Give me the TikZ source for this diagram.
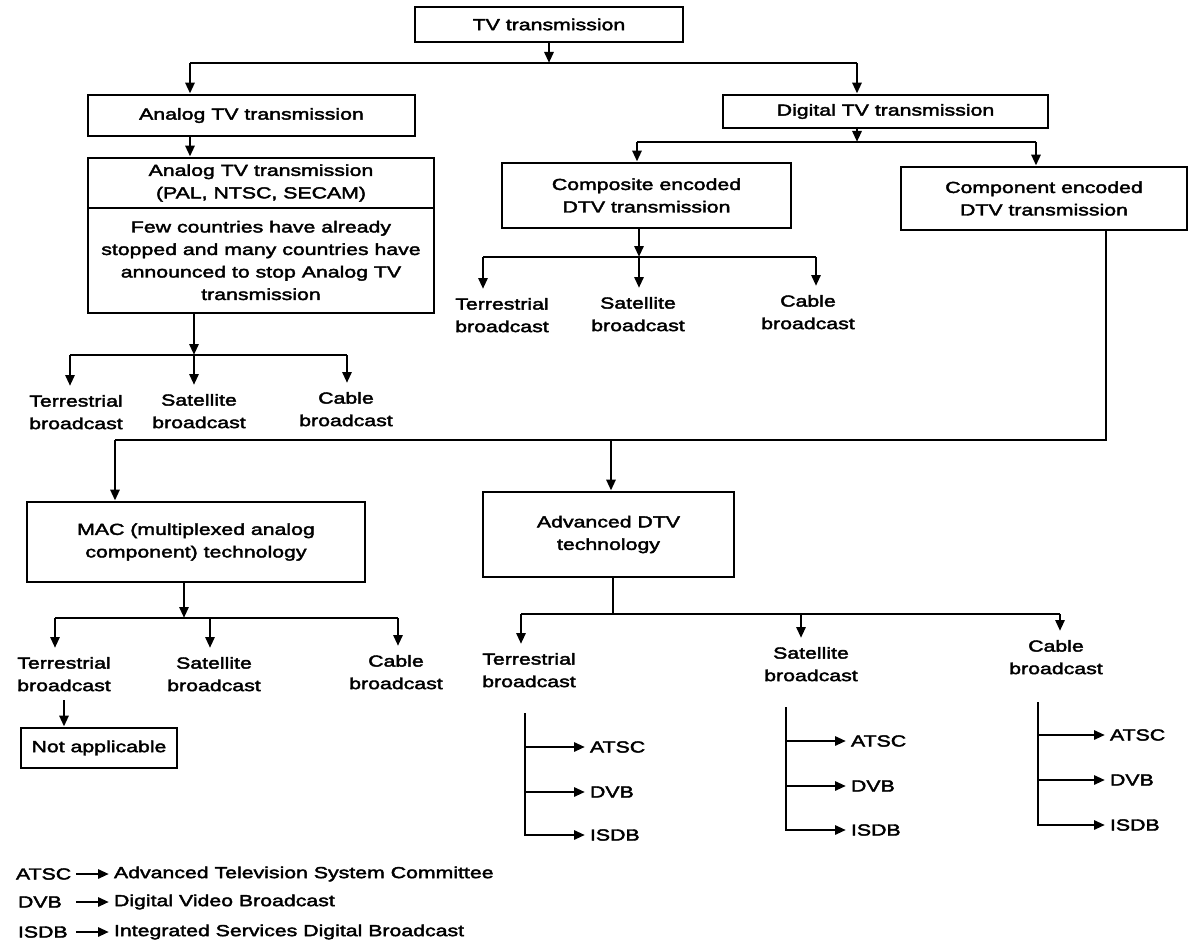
\documentclass[tikz,border=0pt]{standalone}
\usepackage{fontspec}
\setmainfont{Liberation Sans}[FakeStretch=1.33,FakeBold=2.5]
\usetikzlibrary{arrows.meta}
\newcommand\dgfont{\fontsize{16}{22.5}\selectfont}
\begin{document}
\begin{tikzpicture}[x=1pt,y=-1pt,
  line/.style={line width=2.8pt},
  arr/.style={line width=2.8pt,-{Triangle[length=11pt,width=9pt]}},
  box/.style={draw,line width=2.8pt,inner sep=0pt,align=center,font=\dgfont},
  lbl/.style={inner sep=1pt,outer sep=8pt,align=center,anchor=north,font=\dgfont},
  std/.style={inner sep=0pt,outer sep=5pt,anchor=west,font=\dgfont}
]
\useasboundingbox (0,0) rectangle (1191,944);

% boxes
\node[box,minimum width=268pt,minimum height=35pt] (tv) at (549,24.5) {TV transmission};
\node[box,minimum width=327pt,minimum height=41pt] (analog) at (251.5,115.5) {Analog TV transmission};
\node[box,minimum width=346pt,minimum height=50pt] (bigT) at (261,183) {Analog TV transmission\\(PAL, NTSC, SECAM)};
\node[box,minimum width=346pt,minimum height=105pt] (bigB) at (261,260.5) {Few countries have already\\stopped and many countries have\\announced to stop Analog TV\\transmission};
\node[box,minimum width=325pt,minimum height=33pt] (digital) at (885.5,111.5) {Digital TV transmission};
\node[box,minimum width=289pt,minimum height=65pt] (composite) at (646.5,195.5) {Composite encoded\\DTV transmission};
\node[box,minimum width=286pt,minimum height=63pt] (component) at (1044,198.5) {Component encoded\\DTV transmission};
\node[box,minimum width=338pt,minimum height=80pt] (mac) at (196,542) {MAC (multiplexed analog\\component) technology};
\node[box,minimum width=251pt,minimum height=85pt] (adv) at (608.5,534.5) {Advanced DTV\\technology};
\node[box,minimum width=156pt,minimum height=40pt] (na) at (99,748) {Not applicable};

% labels
\node[lbl] (aT) at (76,386) {Terrestrial\\broadcast};
\node[lbl] (aS) at (199,385) {Satellite\\broadcast};
\node[lbl] (aC) at (346,383) {Cable\\broadcast};
\node[lbl] (cT) at (502,289) {Terrestrial\\broadcast};
\node[lbl] (cS) at (638,288) {Satellite\\broadcast};
\node[lbl] (cC) at (808,286) {Cable\\broadcast};
\node[lbl] (mT) at (64,648) {Terrestrial\\broadcast};
\node[lbl] (mS) at (214,648) {Satellite\\broadcast};
\node[lbl] (mC) at (396,646) {Cable\\broadcast};
\node[lbl] (vT) at (529,644) {Terrestrial\\broadcast};
\node[lbl] (vS) at (811,638) {Satellite\\broadcast};
\node[lbl] (vC) at (1056,631) {Cable\\broadcast};

% standards
\node[std] (tA) at (585,747) {ATSC};
\node[std] (tD) at (585,792) {DVB};
\node[std] (tI) at (585,835) {ISDB};
\node[std] (sA) at (846,741) {ATSC};
\node[std] (sD) at (846,786) {DVB};
\node[std] (sI) at (846,830) {ISDB};
\node[std] (kA) at (1105,735) {ATSC};
\node[std] (kD) at (1105,780) {DVB};
\node[std] (kI) at (1105,825) {ISDB};

% legend
\node[std] (lA) at (11,874) {ATSC};
\node[std] (lAd) at (109,874) {Advanced Television System Committee};
\node[std] (lD) at (13,902) {DVB};
\node[std] (lDd) at (109,902) {Digital Video Broadcast};
\node[std] (lI) at (13,932) {ISDB};
\node[std] (lId) at (109,932) {Integrated Services Digital Broadcast};

% top level
\coordinate (t1) at (190,63);
\coordinate (t2) at (857,63);
\draw[line] (t1) -- (t2);
\draw[arr] (tv.south) -- (tv.south |- t1);
\draw[arr] (t1) -- (t1 |- analog.north);
\draw[arr] (t2) -- (t2 |- digital.north);
\draw[arr] (analog.south -| t1) -- (t1 |- bigT.north);

% analog branch
\coordinate (a1) at (70,355);
\coordinate (a2) at (194,355);
\coordinate (a3) at (347,355);
\draw[arr] (bigB.south -| a2) -- (a2);
\draw[line] (a1) -- (a3);
\draw[arr] (a1) -- (a1 |- aT.north);
\draw[arr] (a2) -- (a2 |- aS.north);
\draw[arr] (a3) -- (a3 |- aC.north);

% digital branch
\coordinate (d0) at (857,142);
\coordinate (d1) at (637,142);
\coordinate (d2) at (1036,142);
\draw[arr] (digital.south -| d0) -- (d0);
\draw[line] (d1) -- (d2);
\draw[arr] (d1) -- (d1 |- composite.north);
\draw[arr] (d2) -- (d2 |- component.north);

% composite branch
\coordinate (c0) at (639,257);
\coordinate (c1) at (483,257);
\coordinate (c3) at (816,257);
\draw[arr] (composite.south -| c0) -- (c0);
\draw[line] (c1) -- (c3);
\draw[arr] (c1) -- (c1 |- cT.north);
\draw[arr] (c0) -- (c0 |- cS.north);
\draw[arr] (c3) -- (c3 |- cC.north);

% component branch
\coordinate (k0) at (1106,440);
\coordinate (kL) at (115,440);
\coordinate (kM) at (611,440);
\draw[line] (component.south -| k0) -- (k0) -- (kL);
\draw[arr] (kL) -- (kL |- mac.north);
\draw[arr] (kM) -- (kM |- adv.north);

% MAC branch
\coordinate (m0) at (184,618);
\coordinate (m1) at (55,618);
\coordinate (m2) at (210,618);
\coordinate (m3) at (398,618);
\draw[arr] (mac.south -| m0) -- (m0);
\draw[line] (m1) -- (m3);
\draw[arr] (m1) -- (m1 |- mT.north);
\draw[arr] (m2) -- (m2 |- mS.north);
\draw[arr] (m3) -- (m3 |- mC.north);
\draw[arr] (mT.south) -- (mT.south |- na.north);

% advanced branch
\coordinate (v0) at (613,614);
\coordinate (v1) at (521,614);
\coordinate (v2) at (801,614);
\coordinate (v3) at (1060,614);
\draw[line] (adv.south -| v0) -- (v0);
\draw[line] (v1) -- (v3);
\draw[arr] (v1) -- (v1 |- vT.north);
\draw[arr] (v2) -- (v2 |- vS.north);
\draw[arr] (v3) -- (v3 |- vC.north);

% sub-trees
\coordinate (tt) at (525,713);
\coordinate (ss) at (786,707);
\coordinate (kk) at (1038,702);
\draw[arr] (tt) |- (tI);
\draw[arr] (tt |- tA) -- (tA);
\draw[arr] (tt |- tD) -- (tD);
\draw[arr] (ss) |- (sI);
\draw[arr] (ss |- sA) -- (sA);
\draw[arr] (ss |- sD) -- (sD);
\draw[arr] (kk) |- (kI);
\draw[arr] (kk |- kA) -- (kA);
\draw[arr] (kk |- kD) -- (kD);

% legend arrows
\draw[arr] (lA.east) -- (lAd.west);
\draw[arr] (lA.east |- lD) -- (lDd.west);
\draw[arr] (lA.east |- lI) -- (lId.west);
\end{tikzpicture}
\end{document}
